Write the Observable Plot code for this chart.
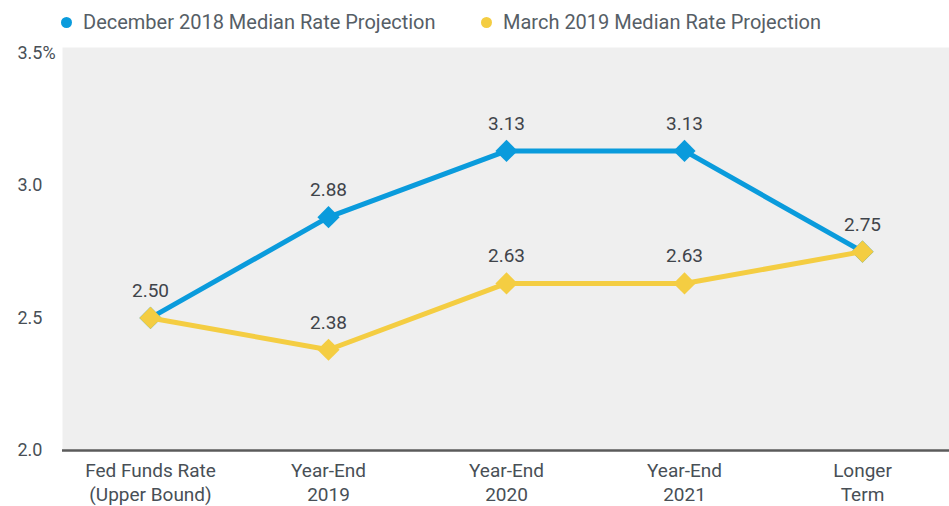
<!DOCTYPE html>
<html>
<head>
<meta charset="utf-8">
<script src="https://cdn.jsdelivr.net/npm/d3@7"></script>
<script src="https://cdn.jsdelivr.net/npm/@observablehq/plot@0.6"></script>
<style>
  html, body { margin: 0; padding: 0; background: #fff; }
  body { width: 949px; height: 506px; overflow: hidden; font-family: Roboto, "Noto Sans", sans-serif; }
  #legend { position: relative; height: 40px; width: 949px; }
  .item { position: absolute; top: 9px; display: flex; align-items: center; font-size: 20px; line-height: 26px; color: #565e66; white-space: nowrap; }
  .sw { width: 11px; height: 11px; border-radius: 50%; margin-right: 11px; }
  #chart svg { display: block; }
</style>
</head>
<body>
<div id="legend"></div>
<div id="chart"></div>
<script>
const categories = ["Fed Funds Rate\n(Upper Bound)", "Year-End\n2019", "Year-End\n2020", "Year-End\n2021", "Longer\nTerm"];
const dec2018 = [2.50, 2.88, 3.13, 3.13, 2.75];
const mar2019 = [2.50, 2.38, 2.63, 2.63, 2.75];
const seriesNames = ["December 2018 Median Rate Projection", "March 2019 Median Rate Projection"];
const seriesColors = ["#0a9bdc", "#f4cd42"];
const yTicks = [2.0, 2.5, 3.0, 3.5];
const yTickLabels = ["2.0", "2.5", "3.0", "3.5%"];

// legend
const legend = document.getElementById("legend");
const legendLeft = [61, 481];
seriesNames.forEach((name, i) => {
  const it = document.createElement("div");
  it.className = "item";
  it.style.left = legendLeft[i] + "px";
  it.innerHTML = `<span class="sw" style="background:${seriesColors[i]}"></span><span>${name}</span>`;
  legend.appendChild(it);
});

const decData = categories.map((c, i) => ({cat: c, v: dec2018[i]}));
const marData = categories.map((c, i) => ({cat: c, v: mar2019[i]}));
const decLabels = decData.filter((d, i) => dec2018[i] !== mar2019[i]);
const tickData = yTicks.map((t, i) => ({t, label: yTickLabels[i]}));

const font = 'Roboto, "Noto Sans", sans-serif';

const chart = Plot.plot({
  width: 949,
  height: 466,
  marginLeft: 62,
  marginRight: 0,
  marginTop: 7,
  marginBottom: 56,
  style: {fontFamily: font, background: "transparent", overflow: "visible"},
  x: {type: "point", domain: categories, padding: 0.478, axis: null},
  y: {domain: [2, 3.52], axis: null},
  marks: [
    Plot.frame({fill: "#efefef", stroke: null}),
    Plot.ruleY([2], {stroke: "#5b5b5b", strokeWidth: 2.5}),
    Plot.text(tickData, {y: "t", text: "label", frameAnchor: "left", textAnchor: "start", dx: -45, fontSize: 18, fill: "#484f56"}),
    Plot.text(categories, {x: d => d, text: d => d, frameAnchor: "bottom", lineAnchor: "top", dy: 9, lineHeight: 1.27, fontSize: 19, fill: "#484f56"}),
    Plot.line(decData, {x: "cat", y: "v", stroke: seriesColors[0], strokeWidth: 5}),
    Plot.dot(decData, {x: "cat", y: "v", symbol: "diamond2", r: 10, fill: seriesColors[0], stroke: null}),
    Plot.line(marData, {x: "cat", y: "v", stroke: seriesColors[1], strokeWidth: 5}),
    Plot.dot(marData, {x: "cat", y: "v", symbol: "diamond2", r: 10, fill: seriesColors[1], stroke: null}),
    Plot.text(decLabels, {x: "cat", y: "v", text: d => d.v.toFixed(2), lineAnchor: "bottom", dy: -21, fontSize: 19, fill: "#3f444a"}),
    Plot.text(marData, {x: "cat", y: "v", text: d => d.v.toFixed(2), lineAnchor: "bottom", dy: -21, fontSize: 19, fill: "#3f444a"})
  ]
});
document.getElementById("chart").appendChild(chart);
</script>
</body>
</html>
